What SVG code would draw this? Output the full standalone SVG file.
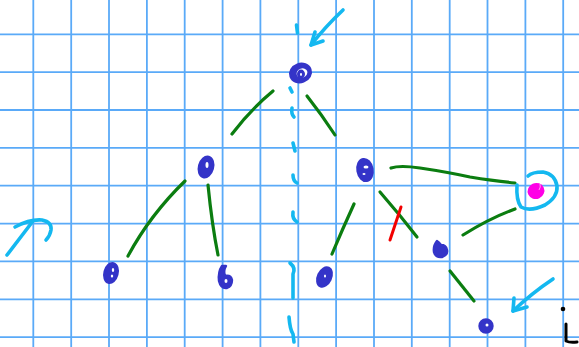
<svg xmlns="http://www.w3.org/2000/svg" width="579" height="347" viewBox="0 0 579 347">
<style>
.grid line{stroke:#5aaaf8;stroke-width:1.8}
.edge{fill:none;stroke:#0b7d10;stroke-width:3.2;stroke-linecap:round;stroke-linejoin:round}
.node{fill:#3434c8;stroke:#3434c8;stroke-width:2.4;stroke-linejoin:round}
.hole{fill:#fff;stroke:none}
.cyan{fill:none;stroke:#14b8f0;stroke-width:3.6;stroke-linecap:round;stroke-linejoin:round}
.red{fill:none;stroke:#f20000;stroke-width:3;stroke-linecap:round}
.ink{fill:none;stroke:#000;stroke-width:3;stroke-linecap:round;stroke-linejoin:round}
</style>
<rect width="579" height="347" fill="#fff"/>
<g class="grid">
<line x1="33.3" y1="0" x2="33.3" y2="347"/><line x1="71.2" y1="0" x2="71.2" y2="347"/><line x1="109" y1="0" x2="109" y2="347"/><line x1="146.9" y1="0" x2="146.9" y2="347"/><line x1="184.7" y1="0" x2="184.7" y2="347"/><line x1="222.6" y1="0" x2="222.6" y2="347"/><line x1="260.4" y1="0" x2="260.4" y2="347"/><line x1="298.3" y1="0" x2="298.3" y2="347"/><line x1="336.1" y1="0" x2="336.1" y2="347"/><line x1="374" y1="0" x2="374" y2="347"/><line x1="411.8" y1="0" x2="411.8" y2="347"/><line x1="449.7" y1="0" x2="449.7" y2="347"/><line x1="487.5" y1="0" x2="487.5" y2="347"/><line x1="525.4" y1="0" x2="525.4" y2="347"/><line x1="563.2" y1="0" x2="563.2" y2="347"/>
<line x1="0" y1="34.3" x2="579" y2="34.3"/><line x1="0" y1="72.2" x2="579" y2="72.2"/><line x1="0" y1="110" x2="579" y2="110"/><line x1="0" y1="147.9" x2="579" y2="147.9"/><line x1="0" y1="185.7" x2="579" y2="185.7"/><line x1="0" y1="223.6" x2="579" y2="223.6"/><line x1="0" y1="261.4" x2="579" y2="261.4"/><line x1="0" y1="299.3" x2="579" y2="299.3"/><line x1="0" y1="337.1" x2="579" y2="337.1"/>
</g>
<g id="axis" class="cyan" stroke-width="3">
<path d="M296.5,25 L297.5,33"/><path d="M290,88 L292,92"/><path d="M292,108 Q291,114 294,117"/><path d="M293,143 L295,151"/><path d="M293,175 Q293,181 297,183"/><path d="M293,212 Q292,219 297,222"/><path d="M290,263 Q296,268 293,274 L293,298"/><path d="M289,317 Q290,330 293,334 L294,342"/>
</g>
<g id="connectors">
<path class="edge" d="M273,91 Q250,110 232,134"/>
<path class="edge" d="M307,96 Q322,115 335,135"/>
<path class="edge" d="M185,181 Q150,215 128,256"/>
<path class="edge" d="M208,185 Q212,225 218,255"/>
<path class="edge" d="M354,204 Q343,228 332,254"/>
<path class="edge" d="M380,192 Q400,215 417,237"/>
<path class="edge" d="M391,168 Q400,165 420,168 Q447,172 470,177 Q495,181 515,183"/>
<path class="edge" d="M515,209 Q490,218 463,235"/>
<path class="edge" d="M450,271 L474,301"/>
</g>
<g id="n-root"><ellipse cx="300.5" cy="73" rx="10.5" ry="9" transform="rotate(-20 300.5 73)" class="node"/><ellipse cx="302" cy="73" rx="5.5" ry="4.5" transform="rotate(-20 302 73)" class="hole"/><ellipse cx="301" cy="74" rx="2.8" ry="3.2" class="node" stroke-width="0"/><ellipse cx="301" cy="74.5" rx="1" ry="1.4" class="hole"/></g>
<g id="n-l"><ellipse cx="206" cy="167" rx="7" ry="10.5" transform="rotate(15 206 167)" class="node"/><ellipse cx="207" cy="165" rx="1.5" ry="3" class="hole"/></g>
<g id="n-r"><ellipse cx="365" cy="170" rx="7.5" ry="11" transform="rotate(-10 365 170)" class="node"/><ellipse cx="366" cy="167" rx="2.5" ry="1.5" class="hole"/><ellipse cx="364" cy="174" rx="1.5" ry="1" class="hole"/></g>
<g id="n-ll"><ellipse cx="111" cy="273" rx="6.5" ry="10" transform="rotate(15 111 273)" class="node"/><ellipse cx="113" cy="270" rx="1.2" ry="2" class="hole"/><ellipse cx="112" cy="276" rx="1.2" ry="1.5" class="hole"/></g>
<g id="n-lr"><path class="node" d="M222,266 Q218,272 219,281 Q221,289 227,288 Q232,286 232,280 Q231,275 225,276 Q223,271 226,266 Z"/><ellipse cx="226" cy="281" rx="1.5" ry="2" class="hole"/></g>
<g id="n-rl"><ellipse cx="324.5" cy="277" rx="6.5" ry="10" transform="rotate(25 324.5 277)" class="node"/><ellipse cx="325" cy="276" rx="1" ry="1.5" class="hole"/></g>
<g id="n-rr"><path class="node" d="M437,241 Q433,246 434,252 Q436,258 442,257 Q448,255 447,250 Q446,245 441,245 Q439,242 437,241 Z"/></g>
<g id="n-pink"><ellipse cx="536" cy="191" rx="8.5" ry="8" transform="rotate(-25 536 191)" fill="#ff00e6"/><path d="M539,190 Q541,187 540,184" stroke="#ff9af0" stroke-width="1" fill="none"/><path class="cyan" d="M517,185 Q516,200 521,207 Q530,212 545,205 Q558,197 557,186 Q555,174 543,172 Q532,172 528,176"/></g>
<g id="n-bottom"><circle cx="486" cy="326" r="6.5" class="node"/><ellipse cx="487" cy="325" rx="1.5" ry="1.5" class="hole"/></g>
<path class="red" d="M401,207 L390,240"/>
<g id="arrows" class="cyan">
<path d="M343,10 Q325,27 311,45"/><path d="M315,32 L311,45 L323,41"/>
<path d="M553,279 Q532,293 513,311"/><path d="M514,298 L513,311 L527,307"/>
<path d="M7,255 L33,221"/><path d="M15,227 Q30,219 42,220 Q52,222 51,230 Q50,236 46,240"/>
</g>
<g id="mark" class="ink"><circle cx="563" cy="309" r="2.3" fill="#000" stroke="none"/><path d="M566,324 L566,341 Q570,343 577,342"/></g>
</svg>
